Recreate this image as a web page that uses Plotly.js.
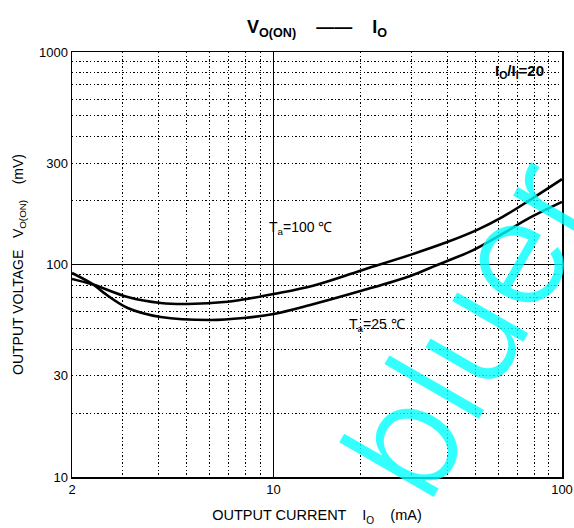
<!DOCTYPE html>
<html>
<head>
<meta charset="utf-8">
<script src="https://cdn.plot.ly/plotly-3.0.1.min.js"></script>
<style>html,body{margin:0;padding:0;background:#fff;}#chart{width:574px;height:528px;}</style>
</head>
<body>
<div id="chart"></div>
<script>
// Output current (mA) and output voltage (mV)
var current100 = [2.0, 2.38, 3.12, 4.06, 5.04, 6.93, 8.53, 10, 13.7, 20, 29.8, 40, 50.8, 62.5, 77.4, 100];
var voltage100 = [85.5, 80.2, 70.3, 65.9, 65.2, 66.8, 69.7, 72.6, 79.5, 93.5, 111, 127.5, 145.5, 168, 201, 252];

var current25 = [2.0, 2.38, 2.58, 3.12, 4.06, 6.05, 7.87, 10, 13.4, 20, 29.8, 36.9, 49.2, 62.5, 77.4, 100];
var voltage25 = [91.2, 80.2, 73.5, 62.4, 56.6, 54.8, 56.0, 58.5, 64.5, 75.0, 88.3, 99.5, 116.9, 140, 166, 197];

var xTickVals = [2, 10, 100];
var xTickText = ['2', '10', '100'];
var yTickVals = [10, 30, 100, 300, 1000];
var yTickText = ['10', '30', '100', '300', '1000'];
var xMinorGrid = [3, 4, 5, 6, 7, 8, 9, 20, 30, 40, 50, 60, 70, 80, 90];
var yMinorGrid = [20, 30, 40, 50, 60, 70, 80, 90, 200, 300, 400, 500, 600, 700, 800, 900];

var FONT = 'Liberation Sans, Arial, Helvetica, sans-serif';
var lineStyle = {color: '#000', width: 2.6, shape: 'spline', smoothing: 1};

var traces = [
  {x: current100, y: voltage100, mode: 'lines', line: lineStyle, name: 'Ta=100', hoverinfo: 'x+y'},
  {x: current25, y: voltage25, mode: 'lines', line: lineStyle, name: 'Ta=25', hoverinfo: 'x+y'}
];

var dotted = '1.4px,2.2px';

var layout = {
  width: 574, height: 528,
  margin: {l: 72, r: 12, t: 52, b: 51, pad: 0},
  paper_bgcolor: '#fff', plot_bgcolor: '#fff',
  showlegend: false,
  font: {family: FONT, color: '#000', size: 13},
  title: {
    text: '<b>V<sub>O(ON)</sub>    ——    I<sub>O</sub></b>',
    x: 0.5, xref: 'paper', xanchor: 'center',
    y: 1 - 27 / 528, yref: 'container', yanchor: 'middle',
    font: {family: FONT, size: 18, color: '#000'}
  },
  xaxis: {
    type: 'log', range: [Math.log10(2), 2],
    tickmode: 'array', tickvals: xTickVals, ticktext: xTickText,
    ticks: '', showgrid: true, gridcolor: '#000', gridwidth: 1,
    showline: true, mirror: true, linecolor: '#000', linewidth: 1.5,
    zeroline: false,
    tickfont: {family: FONT, size: 13, color: '#000'},
    minor: {tickmode: 'array', tickvals: xMinorGrid, showgrid: true, gridcolor: '#000', gridwidth: 1, griddash: dotted, ticks: ''},
    title: {text: 'OUTPUT CURRENT    I<sub>O</sub>    (mA)', font: {family: FONT, size: 14.5, color: '#000'}, standoff: 14}
  },
  yaxis: {
    type: 'log', range: [1, 3],
    tickmode: 'array', tickvals: yTickVals, ticktext: yTickText,
    ticks: '', showgrid: false,
    showline: true, mirror: true, linecolor: '#000', linewidth: 1.5,
    zeroline: false,
    tickfont: {family: FONT, size: 13, color: '#000'},
    minor: {tickmode: 'array', tickvals: yMinorGrid, showgrid: true, gridcolor: '#000', gridwidth: 1, griddash: dotted, ticks: ''},
    title: {text: 'OUTPUT VOLTAGE   V<sub>O(ON)</sub>    (mV)', font: {family: FONT, size: 14, color: '#000'}, standoff: 12}
  },
  shapes: [
    {type: 'line', xref: 'paper', x0: 0, x1: 1, yref: 'y', y0: 100, y1: 100, line: {color: '#000', width: 1}, layer: 'below'}
  ],
  annotations: [
    {text: 'bluer', xref: 'paper', yref: 'paper', x: 0.81, y: 0.355, xanchor: 'center', yanchor: 'middle', textangle: -60, showarrow: false, font: {family: 'Inter, Roboto, Liberation Sans, sans-serif', size: 150, weight: 300, color: 'rgba(0,255,255,0.8)'}},
    {text: 'I<sub>O</sub>/I<sub>I</sub>=20', xref: 'paper', yref: 'paper', x: 0.968, y: 0.955, xanchor: 'right', yanchor: 'middle', showarrow: false, font: {family: FONT, size: 15, color: '#000', weight: 'bold'}},
    {text: 'T<sub>a</sub>=100 ℃', xref: 'x', yref: 'y', x: Math.log10(9.5), y: Math.log10(148), xanchor: 'left', yanchor: 'middle', showarrow: false, font: {family: FONT, size: 14, color: '#000'}},
    {text: 'T<sub>a</sub>=25 ℃', xref: 'x', yref: 'y', x: Math.log10(18.0), y: Math.log10(52), xanchor: 'left', yanchor: 'middle', showarrow: false, font: {family: FONT, size: 14, color: '#000'}}
  ]
};

Plotly.newPlot('chart', traces, layout, {displayModeBar: false, staticPlot: true});
</script>
</body>
</html>
